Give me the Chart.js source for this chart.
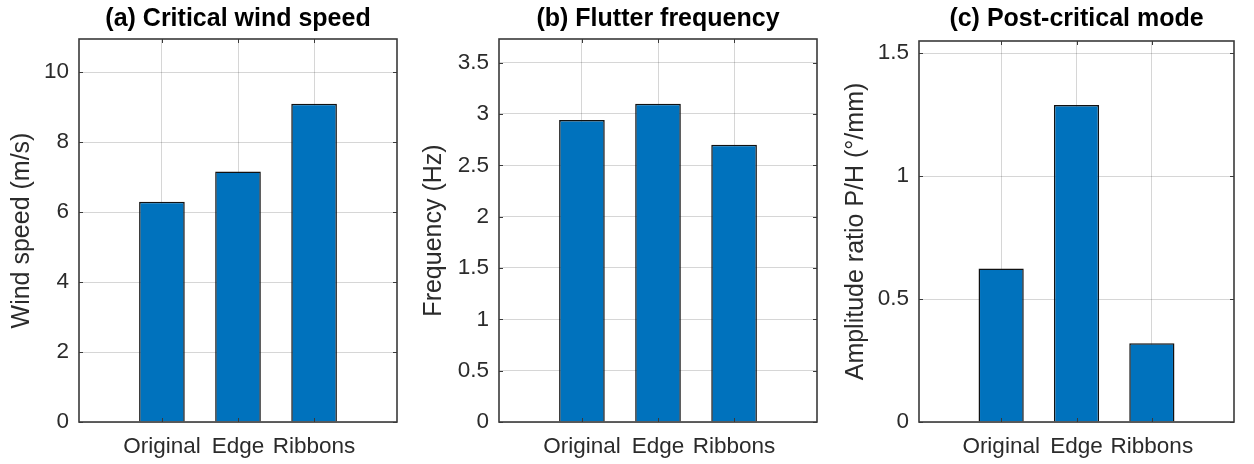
<!DOCTYPE html>
<html>
<head>
<meta charset="utf-8">
<script src="https://cdn.jsdelivr.net/npm/chart.js@4.4.1/dist/chart.umd.min.js"></script>
<style>
body { margin: 0; background: #fff; }
#wrap { position: relative; width: 1254px; height: 464px; }
canvas { position: absolute; top: 0; }
</style>
</head>
<body>
<div id="wrap">
<canvas id="chartA" width="418" height="464" style="left:0"></canvas>
<canvas id="chartB" width="418" height="464" style="left:418px"></canvas>
<canvas id="chartC" width="418" height="464" style="left:836px"></canvas>
</div>
<script>
const categories = ["Original", "Edge", "Ribbons"];
const windSpeed = [6.30, 7.16, 9.10];
const flutterFreq = [2.94, 3.10, 2.70];
const ampRatio = [0.624, 1.29, 0.32];
const windTicks = [0, 2, 4, 6, 8, 10];
const freqTicks = [0, 0.5, 1, 1.5, 2, 2.5, 3, 3.5];
const ratioTicks = [0, 0.5, 1, 1.5];

const family = "'Liberation Sans', Arial, Helvetica, sans-serif";
const textColor = "#2b2b2b";
const gridColor = "rgba(0,0,0,0.16)";

// matlab style box with inward ticks, drawn over the bars
const boxPlugin = {
    id: "matlabBox",
    afterDatasetsDraw: (chart) => {
        const { ctx, chartArea: a, scales } = chart;
        const tl = 4;
        ctx.save();
        ctx.strokeStyle = "#3a3a3a";
        ctx.lineWidth = 1;
        ctx.beginPath();
        scales.y.ticks.forEach((t) => {
            const py = Math.round(scales.y.getPixelForValue(t.value)) + 0.5;
            ctx.moveTo(a.left, py);
            ctx.lineTo(a.left + tl, py);
            ctx.moveTo(a.right, py);
            ctx.lineTo(a.right - tl, py);
        });
        scales.x.ticks.forEach((t) => {
            const px = Math.round(scales.x.getPixelForValue(t.value)) + 0.5;
            ctx.moveTo(px, a.bottom);
            ctx.lineTo(px, a.bottom - tl);
            ctx.moveTo(px, a.top);
            ctx.lineTo(px, a.top + tl);
        });
        ctx.stroke();
        ctx.lineWidth = 1.6;
        ctx.strokeRect(a.left, a.top, a.right - a.left, a.bottom - a.top);
        ctx.restore();
    },
};

const makePanel = (id, title, yLabel, values, ticks, yMax, geo) => {
    new Chart(document.getElementById(id), {
        type: "bar",
        data: {
            datasets: [
                {
                    data: categories.map((c, i) => ({ x: i + 1, y: values[i] })),
                    backgroundColor: "#0072BD",
                    borderColor: "#111111",
                    borderWidth: 1.5,
                    barPercentage: 0.6,
                    categoryPercentage: 1,
                },
            ],
        },
        options: {
            responsive: false,
            animation: false,
            layout: { padding: { left: 0, right: geo.right, top: 0, bottom: 0 } },
            plugins: {
                legend: { display: false },
                tooltip: { enabled: false },
                title: {
                    display: true,
                    text: title,
                    fullSize: false,
                    color: "#000",
                    font: { family: family, size: 25, weight: "bold" },
                    padding: { top: 4, bottom: geo.top - 34 },
                },
            },
            scales: {
                x: {
                    type: "linear",
                    offset: false,
                    min: -0.09,
                    max: 4.09,
                    afterBuildTicks: (s) => {
                        s.ticks = categories.map((c, i) => ({ value: i + 1 }));
                    },
                    afterFit: (s) => {
                        s.height = 42;
                    },
                    ticks: {
                        callback: (v) => categories[v - 1],
                        padding: 11,
                        color: textColor,
                        autoSkip: false,
                        maxRotation: 0,
                        font: { family: family, size: 22.5 },
                    },
                    grid: { color: gridColor, drawTicks: false, offset: false },
                    border: { display: false },
                },
                y: {
                    min: 0,
                    max: yMax,
                    afterBuildTicks: (s) => {
                        s.ticks = ticks.map((v) => ({ value: v }));
                    },
                    afterFit: (s) => {
                        s.width = geo.left;
                    },
                    ticks: {
                        callback: (v) => String(v),
                        padding: 10,
                        color: textColor,
                        font: { family: family, size: 22.5 },
                    },
                    grid: { color: gridColor, drawTicks: false },
                    border: { display: false },
                    title: {
                        display: true,
                        text: yLabel,
                        color: textColor,
                        font: { family: family, size: 25 },
                        padding: { top: geo.labelPad, bottom: 0 },
                    },
                },
            },
        },
        plugins: [boxPlugin],
    });
};

makePanel("chartA", "(a) Critical wind speed", "Wind speed (m/s)", windSpeed, windTicks, 10.95,
    { left: 79, right: 21, top: 39, labelPad: 7 });
makePanel("chartB", "(b) Flutter frequency", "Frequency (Hz)", flutterFreq, freqTicks, 3.73,
    { left: 81, right: 19, top: 39, labelPad: 1 });
makePanel("chartC", "(c) Post-critical mode", "Amplitude ratio P/H (°/mm)", ampRatio, ratioTicks, 1.55,
    { left: 83, right: 20, top: 41, labelPad: 5 });
</script>
</body>
</html>
